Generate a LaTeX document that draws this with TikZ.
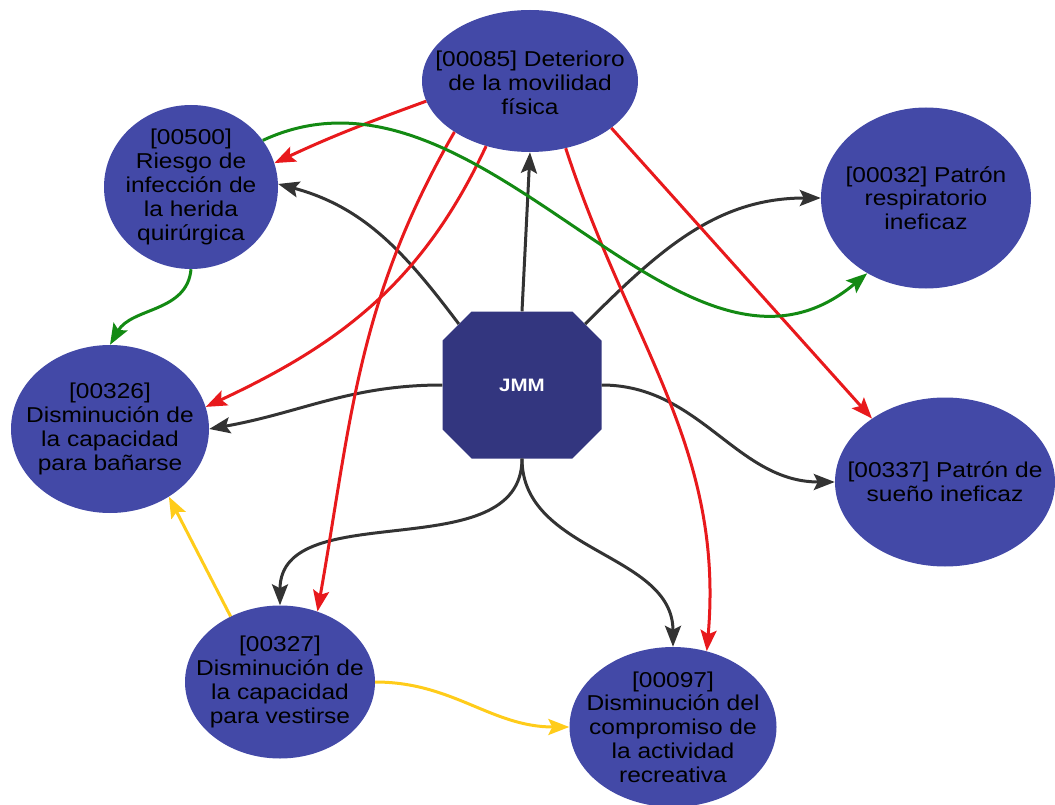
\documentclass[tikz,border=0pt]{standalone}
\usepackage{fontspec}
\setmainfont{Liberation Sans}[FakeStretch=1.14]
\usetikzlibrary{shapes.geometric,shapes.misc,arrows.meta}

\definecolor{dxblue}{HTML}{4349A7}
\definecolor{hubblue}{HTML}{33367F}
\definecolor{linkred}{HTML}{E8191C}
\definecolor{linkgray}{HTML}{333333}
\definecolor{linkgreen}{HTML}{138A13}
\definecolor{linkyellow}{HTML}{FFCC1A}

\begin{document}
\begin{tikzpicture}[x=1pt,y=1pt,
	dx/.style={ellipse,fill=dxblue,inner sep=0pt},
	dxtext/.style={align=center,text=black,font=\fontsize{21.5}{23.8}\selectfont},
	hub/.style={chamfered rectangle,chamfered rectangle xsep=46pt,chamfered rectangle ysep=42pt,
		minimum width=159pt,minimum height=147pt,inner sep=0pt,fill=hubblue,
		text=white,font=\bfseries\fontsize{18}{20}\selectfont},
	link/.style={line width=3pt,-{Stealth[length=21pt,width=16pt,inset=4pt]}}]
	\useasboundingbox (0,0) rectangle (1055,-805);
	
	% diagnosis ellipses
	\node[dx,minimum width=216pt,minimum height=142pt] (n85) at (530,-81) {};
	\node[dx,minimum width=174pt,minimum height=164pt] (n500) at (191,-187) {};
	\node[dx,minimum width=210pt,minimum height=181pt] (n32) at (926,-198) {};
	\node[dx,minimum width=198pt,minimum height=168pt] (n326) at (110,-429) {};
	\node[dx,minimum width=220pt,minimum height=169pt] (n337) at (945,-482) {};
	\node[dx,minimum width=190pt,minimum height=153pt] (n327) at (280,-682) {};
	\node[dx,minimum width=207pt,minimum height=160pt] (n97) at (673,-727) {};
	
	\node[dxtext] (t85) at (530,-83) {[00085] Deterioro\\de la movilidad\\física};
	\node[dxtext] (t500) at (n500) {[00500]\\Riesgo de\\infección de\\la herida\\quirúrgica};
	\node[dxtext] (t32) at (n32) {[00032] Patrón\\respiratorio\\ineficaz};
	\node[dxtext] (t326) at (n326) {[00326]\\Disminución de\\la capacidad\\para bañarse};
	\node[dxtext] (t337) at (n337) {[00337] Patrón de\\sueño ineficaz};
	\node[dxtext] (t327) at (n327) {[00327]\\Disminución de\\la capacidad\\para vestirse};
	\node[dxtext] (t97) at (n97) {[00097]\\Disminución del\\compromiso de\\la actividad\\recreativa};
	
	\node[hub] (jmm) at (522,-385) {JMM};
	
	% patient links
	\draw[link,linkgray] (jmm.136) to[out=127,in=-15] (n500.2);
	\draw[link,linkgray] (jmm.north) -- (n85.south);
	\draw[link,linkgray] (jmm.44) to[out=45,in=180] (n32.west);
	\draw[link,linkgray] (jmm.west) to[out=180,in=10] (n326.east);
	\draw[link,linkgray] (jmm.east) to[out=0,in=180] (n337.west);
	\draw[link,linkgray] (jmm.south) to[out=-90,in=90] (n327.north);
	\draw[link,linkgray] (jmm.south) to[out=-90,in=90] (n97.north);
	
	% from 00085
	\draw[link,linkred] (n85.191) to[out=200,in=25] (n500.16);
	\draw[link,linkred] (n85.214) to[out=240,in=80] (n327.62);
	\draw[link,linkred] (n85.236) to[out=245,in=25] (n326.13);
	\draw[link,linkred] (n85.298) to[out=288,in=85] (n97.66);
	\draw[link,linkred] (n85.330) -- (n337.139);
	
	\draw[link,linkgreen] (n500.33) to[out=25,in=220] (n32.232);
	\draw[link,linkgreen] (n500.270) to[out=-95,in=60] (n326.90);
	
	\draw[link,linkyellow] (n327.127) -- (n326.311);
	\draw[link,linkyellow] (n327.east) to[out=0,in=180] (n97.west);
\end{tikzpicture}
\end{document}
